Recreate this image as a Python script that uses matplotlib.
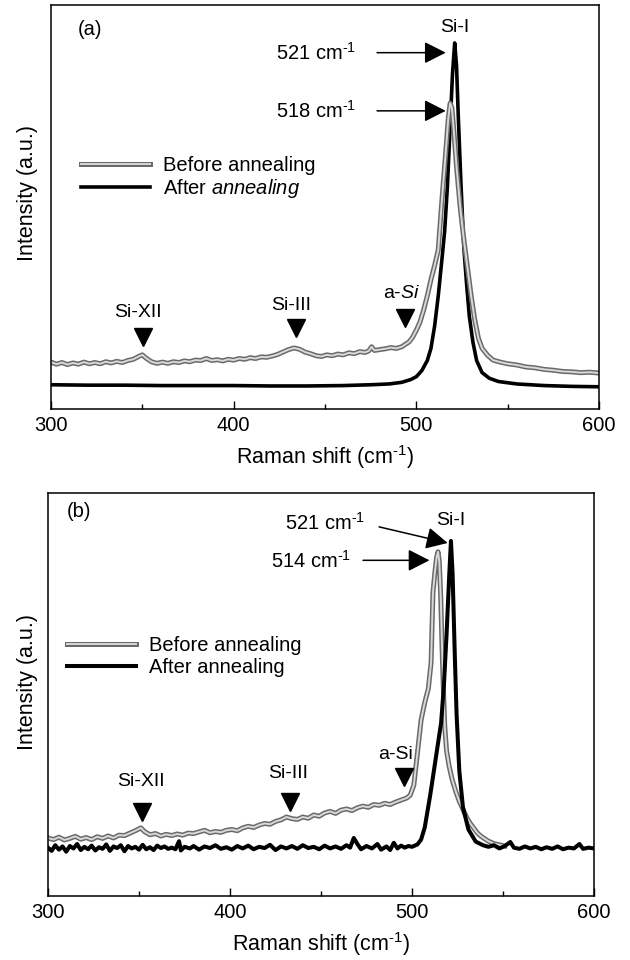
import matplotlib
matplotlib.use('Agg')
import matplotlib.pyplot as plt
import matplotlib.patheffects as pe

plt.rcParams['font.family'] = ['Liberation Sans', 'DejaVu Sans']
plt.rcParams['mathtext.fontset'] = 'custom'
plt.rcParams['mathtext.rm'] = 'Liberation Sans'
plt.rcParams['mathtext.it'] = 'Liberation Sans:italic'
plt.rcParams['mathtext.default'] = 'rm'

# ---- panel (a) data (intensity in arbitrary units, 0-100) ----
a_before_x = [300, 303, 306, 309, 312, 315, 318, 321, 324, 327, 330, 333, 336, 339, 342, 345,
              348, 350, 352, 355, 358, 361, 364, 367, 370, 373, 376, 379, 382, 385, 388, 391,
              394, 397, 400, 403, 406, 409, 412, 415, 418, 421, 424, 427, 430, 433, 436, 439,
              442, 445, 448, 451, 454, 457, 460, 463, 466, 469, 472, 474, 475.5, 477, 480, 483,
              486, 489, 492, 494, 496, 498, 500, 502, 504, 506, 508, 510, 512, 514, 516, 517.5,
              518.5, 519.5, 520.5, 522, 524, 526, 528, 530, 532, 534, 536, 539, 542,
              546, 550, 555, 560, 565, 570, 575, 580, 585, 590, 595, 600]
a_before_y = [11.6, 11.1, 11.5, 11.0, 11.4, 11.1, 11.6, 11.2, 11.5, 11.2, 11.7, 11.4, 11.8, 11.5,
              12.0, 12.3, 13.0, 13.4, 12.6, 11.7, 11.3, 11.6, 11.3, 11.7, 11.5, 11.9, 11.7, 12.1,
              12.0, 12.5, 12.0, 12.2, 11.9, 12.3, 12.1, 12.5, 12.3, 12.7, 12.5, 12.9, 12.8, 13.1,
              13.5, 14.1, 14.7, 15.1, 14.8, 14.1, 13.7, 13.2, 13.0, 13.4, 13.2, 13.6, 13.4, 13.9,
              13.7, 14.2, 14.0, 14.4, 15.4, 14.5, 14.7, 14.9, 15.2, 15.0, 15.4, 16.0, 16.6, 17.8,
              19.5, 21.5, 24.5, 28.0, 32.0, 35.5, 39.4, 51.7, 63.0, 72.0, 75.7, 74.5, 69.0,
              60.0, 50.0, 42.0, 35.0, 28.0, 22.0, 17.5, 15.0, 13.3, 12.1, 11.6, 11.2,
              10.9, 10.4, 10.2, 9.8, 9.6, 9.3, 9.2, 9.0, 9.1, 8.9]

a_after_x = [300, 320, 340, 360, 380, 400, 420, 440, 460, 475, 485, 492, 497, 500, 503, 506, 508,
             510, 512, 514, 515.5, 517, 518.5, 519.8, 521, 522, 523, 524.5, 526, 527.5, 529,
             531, 533, 536, 540, 545, 555, 570, 585, 600]
a_after_y = [6.0, 5.9, 5.9, 5.8, 5.8, 5.8, 5.7, 5.7, 5.8, 6.0, 6.2, 6.6, 7.3, 8.0, 9.5, 12.0,
             15.0, 20.5, 28.0, 37.0, 44.0, 55.0, 70.0, 83.0, 90.6, 85.0, 72.0, 55.0, 40.0, 31.0,
             23.0, 16.5, 12.0, 9.0, 7.6, 6.8, 6.2, 5.8, 5.6, 5.5]

# ---- panel (b) data ----
b_before_x = [300, 303, 306, 309, 312, 315, 318, 321, 324, 327, 330, 333, 336, 339, 342, 345,
              348, 351, 353, 356, 359, 362, 365, 368, 371, 374, 377, 380, 383, 386, 389, 392,
              395, 398, 401, 404, 407, 410, 413, 416, 419, 422, 425, 428, 431, 434, 437, 440,
              443, 446, 449, 452, 455, 458, 461, 464, 467, 470, 473, 476, 479, 482, 485, 488,
              491, 494, 497, 499, 501, 503, 505, 507, 509, 510.5, 511.5, 512.5, 513.5, 514.3,
              515, 515.8, 516.5, 517.2, 518, 519, 520.5, 522, 524, 526, 528, 530, 532, 534,
              536, 538, 540, 542, 545, 548, 551]
b_before_y = [14.4, 14.0, 14.6, 13.9, 14.3, 14.8, 14.1, 14.5, 14.0, 14.7, 14.3, 14.9, 14.4,
              15.1, 15.0, 15.6, 16.2, 16.9, 16.0, 15.2, 15.5, 14.9, 15.3, 15.0, 15.4, 15.1,
              15.6, 15.5, 15.9, 16.3, 15.7, 16.0, 15.8, 16.3, 16.5, 16.2, 16.9, 17.3, 17.0,
              17.6, 18.0, 17.8, 18.5, 18.9, 19.6, 19.2, 19.0, 19.6, 19.3, 20.1, 19.8, 20.6,
              21.0, 20.5, 21.3, 21.6, 21.2, 21.9, 22.3, 22.0, 22.7, 22.5, 23.0, 22.7, 23.3,
              23.8, 24.3, 25.0, 27.5, 35.5, 43.7, 48.0, 51.5, 58.0, 75.2, 80.0, 84.0, 85.4,
              83.0, 74.0, 62.0, 52.0, 42.0, 36.0, 32.0, 29.0, 26.0, 23.5, 21.5, 19.5, 18.0,
              16.8, 15.6, 14.8, 14.2, 13.6, 13.0, 12.7, 12.4]

b_after_x = [300, 302, 304, 306, 308, 310, 312, 314, 316, 318, 320, 322, 324, 326, 328, 330,
             332, 334, 336, 338, 340, 342, 344, 346, 348, 350, 352, 354, 356, 358, 360, 362,
             364, 366, 368, 370, 372, 373, 375, 378, 380, 383, 386, 389, 392, 395, 398, 401,
             404, 407, 410, 413, 416, 419, 422, 425, 428, 431, 434, 437, 440, 443, 446, 449,
             452, 455, 458, 461, 464, 466, 468, 470, 472, 475, 478, 481, 483, 486, 488, 490,
             492, 494, 496, 498, 500, 503, 505, 507, 510, 512, 514, 516, 517.5, 519, 520.5,
             521.4, 522.3, 523.5, 524.5, 526, 528, 531, 535, 539, 542, 545, 548, 551, 554,
             556, 559, 562, 565, 568, 571, 574, 577, 580, 583, 586, 589, 592, 594, 597, 600]
b_after_y = [12.0, 11.2, 12.6, 11.5, 12.3, 11.0, 12.4, 11.8, 12.9, 11.4, 12.2, 11.6, 12.5,
             11.3, 12.1, 11.7, 12.8, 11.2, 12.3, 11.9, 12.6, 11.1, 12.4, 11.8, 12.2, 11.5,
             12.7, 11.6, 12.1, 11.4, 12.5, 11.9, 12.3, 11.7, 12.0, 11.6, 13.6, 11.3, 12.2,
             11.8, 12.4, 11.5, 12.3, 11.9, 12.6, 11.7, 12.1, 11.5, 12.4, 11.8, 12.5, 11.6,
             12.2, 11.9, 12.7, 11.4, 12.3, 11.8, 12.4, 11.7, 12.6, 11.9, 12.2, 11.6, 12.5,
             11.8, 12.3, 11.7, 12.6, 12.0, 14.4, 12.9, 11.6, 12.4, 11.8, 12.9, 11.5, 12.3,
             11.4, 13.2, 11.8, 12.5, 12.0, 12.4, 12.2, 12.8, 14.0, 17.0, 25.0, 31.0, 37.0,
             43.0, 52.0, 65.0, 80.0, 88.1, 80.0, 60.0, 45.0, 31.0, 22.0, 16.5, 13.5, 12.6,
             12.2, 12.6, 11.8, 12.4, 13.4, 12.0, 11.7, 12.3, 11.8, 12.2, 11.6, 12.1, 11.7,
             12.3, 11.6, 12.0, 11.8, 12.9, 11.7, 12.0, 11.8]

x_major = [300, 400, 500, 600]
x_minor = [350, 450, 550]

# peak marks: (label, marker x, marker y, label x, label y)
a_marks = [('Si-XII', 350.4, 17.7, 347.6, 23.8),
           ('Si-III', 434.0, 20.0, 431.4, 25.7),
           ('a-$\\it{Si}$', 493.8, 22.5, 492.0, 28.5)]
b_marks = [('Si-XII', 351.6, 20.8, 351.0, 28.5),
           ('Si-III', 433.0, 23.3, 431.9, 30.3),
           ('a-Si', 495.6, 29.5, 490.7, 35.0)]

WN = 'cm$^{\\text{-}1}$'

gray_fx = [pe.Stroke(linewidth=3.6, foreground='#6a6a6a'), pe.Normal()]
arrow_kw = dict(arrowstyle='-|>,head_length=0.55,head_width=0.28', color='black',
                lw=1.1, mutation_scale=24, shrinkA=0, shrinkB=0)

fig = plt.figure(figsize=(6.3, 9.6), dpi=100)
ax_a = fig.add_axes([51 / 630, 1 - 409 / 960, 548 / 630, 404 / 960])
ax_b = fig.add_axes([48 / 630, 1 - 896 / 960, 546 / 630, 403 / 960])

# panel (a)
ax_a.plot(a_after_x, a_after_y, color='black', lw=2.6, label='After $\\it{annealing}$')
ax_a.plot(a_before_x, a_before_y, color='#d9d9d9', lw=1.4, path_effects=gray_fx,
          label='Before annealing')
# panel (b)
ax_b.plot(b_before_x, b_before_y, color='#d9d9d9', lw=1.4, path_effects=gray_fx,
          label='Before annealing')
ax_b.plot(b_after_x, b_after_y, color='black', lw=2.9, label='After annealing')

for ax, marks in [(ax_a, a_marks), (ax_b, b_marks)]:
    ax.set_xlim(300, 600)
    ax.set_ylim(0, 100)
    ax.set_xticks(x_major)
    ax.set_xticks(x_minor, minor=True)
    ax.tick_params(axis='x', which='major', direction='in', length=6, width=1,
                   labelsize=14.5, pad=5)
    ax.tick_params(axis='x', which='minor', direction='in', length=3.5, width=1)
    ax.tick_params(axis='y', left=False, labelleft=False)
    for s in ax.spines.values():
        s.set_linewidth(1.1)
    ax.set_xlabel('Raman shift (' + WN + ')', fontsize=15.5, labelpad=6)
    ax.set_ylabel('Intensity (a.u.)', fontsize=15.5)
    for name, mx, my, lx, ly in marks:
        ax.plot(mx, my, marker='v', color='black', markersize=12.5, linestyle='none')
        ax.text(lx, ly, name, fontsize=14, ha='center', va='center')
    h, l = ax.get_legend_handles_labels()
    order = [l.index('Before annealing'), 1 - l.index('Before annealing')]
    ax.legend([h[i] for i in order], [l[i] for i in order], frameon=False,
              fontsize=14.5, handlelength=3.45, handletextpad=0.65, labelspacing=0.12,
              borderpad=0, borderaxespad=0, loc='center left',
              bbox_to_anchor=(0.054, 0.572) if ax is ax_a else (0.034, 0.594))

ax_a.yaxis.set_label_coords(-0.024, 0.535)
ax_b.yaxis.set_label_coords(-0.019, 0.53)

ax_a.text(0.048, 0.94, '(a)', transform=ax_a.transAxes, fontsize=14.5, ha='left', va='center')
ax_b.text(0.035, 0.953, '(b)', transform=ax_b.transAxes, fontsize=14.5, ha='left', va='center')

# panel (a) peak annotations
ax_a.text(521, 94.5, 'Si-I', fontsize=14, ha='center', va='center')
ax_a.text(467, 88.1, '521 ' + WN, fontsize=14.5, ha='right', va='center')
ax_a.annotate('', xy=(516.1, 88.2), xytext=(478.5, 88.2), arrowprops=arrow_kw)
ax_a.text(467, 73.8, '518 ' + WN, fontsize=14.5, ha='right', va='center')
ax_a.annotate('', xy=(516.1, 73.8), xytext=(478.5, 73.8), arrowprops=arrow_kw)

# panel (b) peak annotations
ax_b.text(521.4, 93.3, 'Si-I', fontsize=14, ha='center', va='center')
ax_b.text(474, 92.6, '521 ' + WN, fontsize=14.5, ha='right', va='center')
ax_b.annotate('', xy=(519.6, 87.6), xytext=(481.9, 91.6), arrowprops=arrow_kw)
ax_b.text(466.5, 83.1, '514 ' + WN, fontsize=14.5, ha='right', va='center')
ax_b.annotate('', xy=(509.6, 83.3), xytext=(473.1, 83.3), arrowprops=arrow_kw)

plt.savefig('out.png', dpi=100)
